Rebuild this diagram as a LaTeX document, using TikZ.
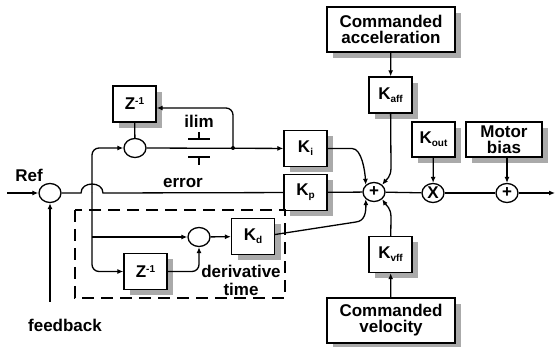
\documentclass[tikz,border=0pt]{standalone}
\usepackage{fontspec}
\setmainfont{Liberation Sans}
\usetikzlibrary{shapes.geometric,arrows.meta}
\newcommand\mysub[1]{\raisebox{-3pt}{\fontsize{10}{10}\selectfont #1}}
\newcommand\mysup[1]{\raisebox{5pt}{\fontsize{10}{10}\selectfont #1}}
\definecolor{shadowgray}{RGB}{170,170,170}
\begin{document}
\begin{tikzpicture}[line width=1.3pt,
  every node/.style={font=\bfseries\fontsize{17}{16}\selectfont},
  blk/.style={draw,fill=white,minimum width=43pt,minimum height=36pt,inner sep=0pt,align=center},
  shd/.style={fill=shadowgray,draw=none},
  sumj/.style={draw,ellipse,minimum width=22pt,minimum height=19pt,inner sep=0pt},
  arr/.style={-{Latex[length=6pt,width=5pt]}},
  rc/.style={rounded corners=7pt}]
\begin{scope}[x=1pt,y=-1pt]
\useasboundingbox (0,0) rectangle (557,347);
% shadows (drawn first, under everything)
\foreach \cx/\cy/\w/\h in {134.5/104/43/36, 145.5/271.5/43/36, 253/236.5/43/36, 305.5/148.5/43/36,
  305.5/192.5/43/36, 390.5/95/43/36, 390.5/254.5/43/36, 433.5/139.5/43/35, 504/139.5/76/35,
  391/29.5/128/45, 391/320.5/128/45}
  {\fill[shd] (\cx-\w/2+6,\cy-\h/2+6) rectangle (\cx+\w/2+6,\cy+\h/2+6);}
% summing junctions
\node[sumj] (R0) at (50,193) {};
\node[sumj] (C1) at (135,148) {};
\node[sumj] (C2) at (199,237) {};
\node[sumj] (P) at (374,192) {+};
\node[sumj] (X) at (433,193) {X};
\node[sumj] (B) at (507,193) {+};
% blocks
\node[blk] (Zt) at (134.5,104) {Z\mysup{-1}};
\node[blk] (Zb) at (145.5,271.5) {Z\mysup{-1}};
\node[blk] (Kd) at (253,236.5) {K\mysub{d}};
\node[blk] (Ki) at (305.5,148.5) {K\mysub{i}};
\node[blk] (Kp) at (305.5,192.5) {K\mysub{p}};
\node[blk] (Kaff) at (390.5,95) {K\mysub{aff}};
\node[blk] (Kvff) at (390.5,254.5) {K\mysub{vff}};
\node[blk,minimum height=35pt] (Kout) at (433.5,139.5) {K\mysub{out}};
\node[blk,minimum width=76pt,minimum height=35pt] (MB) at (504,139.5) {Motor\\bias};
\node[blk,minimum width=128pt,minimum height=45pt] (Ca) at (391,29.5) {Commanded\\acceleration};
\node[blk,minimum width=128pt,minimum height=45pt] (Cv) at (391,320.5) {Commanded\\velocity};
% labels
\node (ref) at (29,175) {Ref};
\node (err) at (183,183) {error};
\node (ilim) at (199,121) {ilim};
\node (fb) at (65,325) {feedback};
\node[align=center,font=\bfseries\fontsize{17}{18}\selectfont] (dt) at (241,280) {derivative\\time};
% coordinates
\coordinate (in) at (7,193);
\coordinate (jl) at (81,193);
\coordinate (jr) at (103,193);
\coordinate (J) at (92,193);
\coordinate (jb) at (92,237);
\coordinate (dot) at (233,148);
\coordinate (out) at (555,193);
\coordinate (fbs) at (50,302);
% dashed derivative region
\draw[dash pattern=on 12pt off 7pt] (75,210) rectangle (285,298);
% connectors
\draw[arr] (in) -- (R0);
\draw[arr] (fbs) -- (R0);
\draw (R0) -- (jl) .. controls (81,181) and (103,181) .. (jr) -- (Kp);
\draw[arr,rc] (J) |- (C1);
\draw[arr,rc] (J) |- (Zb);
\draw[arr] (jb) -- (C2);
\draw (Zt) -- (C1);
\draw[arr] (C1) -- (Ki);
\draw[arr,rc] (dot) |- ([yshift=-4pt]Zt.east);
\fill (dot) circle (2pt);
\draw[arr] (C2) -- (Kd);
\draw[arr,rc] (Zb) -| (C2);
% ilim symbols
\draw (188,139) -- (210,139) (199,139) -- (199,132);
\draw (188,157) -- (210,157) (199,157) -- (199,165);
% into main sum
\draw[arr] (Ki) -- (352,148.5) .. controls (362,148.5) and (365,172) .. (P.north west);
\draw[arr] (Kaff) -- (391,168) .. controls (391,177) and (386,180) .. (P.north east);
\draw[arr] (Kvff) -- (391,217) .. controls (391,208) and (386,205) .. (P.south east);
\draw[arr] ([yshift=2pt]Kd.east) -- (356,222) .. controls (365,221) and (366,212) .. (P.south west);
\draw (Kp) -- (P);
\draw (P) -- (X);
\draw (X) -- (B);
\draw[arr] (B) -- (out);
\draw[arr] (Ca) -- (Kaff);
\draw[arr] (Cv) -- (Kvff);
\draw[arr] (Kout) -- (X);
\draw[arr] (MB.south -| B) -- (B);
\end{scope}
\end{tikzpicture}
\end{document}
